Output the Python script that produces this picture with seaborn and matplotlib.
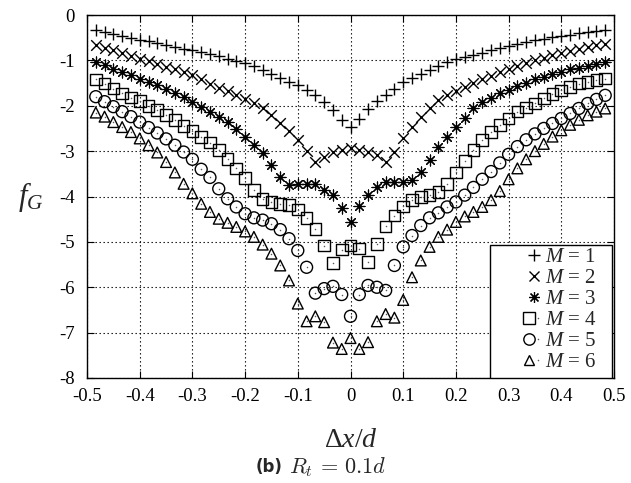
import matplotlib
matplotlib.use("Agg")
import matplotlib.pyplot as plt
import numpy as np
import pandas as pd
import seaborn as sns
from matplotlib.lines import Line2D
from matplotlib.patches import Rectangle
from matplotlib.legend_handler import HandlerTuple
from matplotlib.ticker import FixedLocator, FuncFormatter

# Offset positions dx/d (step 1/60)
dx = [-0.4833, -0.4667, -0.45, -0.4333, -0.4167, -0.4, -0.3833, -0.3667, -0.35, -0.3333,
      -0.3167, -0.3, -0.2833, -0.2667, -0.25, -0.2333, -0.2167, -0.2, -0.1833, -0.1667,
      -0.15, -0.1333, -0.1167, -0.1, -0.0833, -0.0667, -0.05, -0.0333, -0.0167, 0.0,
      0.0167, 0.0333, 0.05, 0.0667, 0.0833, 0.1, 0.1167, 0.1333, 0.15, 0.1667,
      0.1833, 0.2, 0.2167, 0.2333, 0.25, 0.2667, 0.2833, 0.3, 0.3167, 0.3333,
      0.35, 0.3667, 0.3833, 0.4, 0.4167, 0.4333, 0.45, 0.4667, 0.4833]

fG_m1 = [-0.33, -0.38, -0.42, -0.46, -0.50, -0.54, -0.58, -0.62, -0.66, -0.70,
         -0.74, -0.78, -0.82, -0.86, -0.91, -0.96, -1.01, -1.06, -1.12, -1.21,
         -1.30, -1.38, -1.47, -1.55, -1.66, -1.77, -1.91, -2.10, -2.32, -2.47,
         -2.30, -2.08, -1.90, -1.77, -1.62, -1.47, -1.38, -1.30, -1.21, -1.12,
         -1.03, -0.98, -0.93, -0.88, -0.83, -0.78, -0.73, -0.68, -0.64, -0.60,
         -0.56, -0.52, -0.49, -0.46, -0.43, -0.40, -0.37, -0.35, -0.32]

fG_m2 = [-0.67, -0.72, -0.78, -0.84, -0.90, -0.96, -1.02, -1.08, -1.14, -1.20,
         -1.26, -1.32, -1.40, -1.51, -1.60, -1.68, -1.76, -1.86, -1.93, -2.06,
         -2.21, -2.37, -2.56, -2.76, -3.00, -3.24, -3.13, -3.03, -2.97, -2.94,
         -2.98, -3.02, -3.09, -3.24, -3.02, -2.72, -2.47, -2.24, -2.06, -1.88,
         -1.77, -1.68, -1.59, -1.50, -1.42, -1.34, -1.26, -1.19, -1.12, -1.06,
         -1.00, -0.94, -0.89, -0.84, -0.79, -0.75, -0.71, -0.67, -0.63]

fG_m3 = [-1.03, -1.11, -1.19, -1.26, -1.33, -1.40, -1.47, -1.55, -1.63, -1.72,
         -1.81, -1.91, -2.02, -2.13, -2.24, -2.36, -2.52, -2.69, -2.87, -3.05,
         -3.31, -3.57, -3.75, -3.73, -3.72, -3.73, -3.85, -3.97, -4.25, -4.56,
         -4.22, -3.96, -3.79, -3.69, -3.68, -3.68, -3.64, -3.46, -3.20, -2.91,
         -2.69, -2.47, -2.26, -2.06, -1.92, -1.82, -1.73, -1.65, -1.57, -1.49,
         -1.42, -1.36, -1.30, -1.25, -1.20, -1.16, -1.12, -1.08, -1.04]

fG_m4 = [-1.42, -1.51, -1.62, -1.73, -1.82, -1.90, -2.00, -2.10, -2.21, -2.32,
         -2.44, -2.55, -2.69, -2.81, -2.98, -3.17, -3.38, -3.59, -3.85, -4.05,
         -4.12, -4.16, -4.19, -4.29, -4.47, -4.71, -5.08, -5.46, -5.17, -5.08,
         -5.15, -5.45, -5.04, -4.66, -4.42, -4.22, -4.08, -4.01, -3.97, -3.90,
         -3.72, -3.47, -3.22, -2.98, -2.76, -2.58, -2.43, -2.28, -2.13, -2.04,
         -1.95, -1.84, -1.74, -1.66, -1.58, -1.51, -1.47, -1.43, -1.40]

fG_m5 = [-1.80, -1.91, -2.02, -2.13, -2.24, -2.36, -2.48, -2.60, -2.73, -2.87,
         -3.02, -3.18, -3.40, -3.58, -3.83, -4.05, -4.23, -4.38, -4.47, -4.52,
         -4.60, -4.73, -4.93, -5.19, -5.56, -6.13, -6.03, -5.98, -6.16, -6.64,
         -6.16, -5.96, -6.00, -6.07, -5.52, -5.11, -4.86, -4.64, -4.47, -4.36,
         -4.23, -4.12, -3.97, -3.80, -3.62, -3.45, -3.26, -3.07, -2.90, -2.75,
         -2.62, -2.50, -2.39, -2.28, -2.17, -2.06, -1.95, -1.86, -1.77]

fG_m6 = [-2.15, -2.24, -2.36, -2.47, -2.58, -2.72, -2.87, -3.03, -3.24, -3.47,
         -3.72, -3.93, -4.16, -4.34, -4.49, -4.58, -4.67, -4.77, -4.89, -5.06,
         -5.26, -5.52, -5.85, -6.36, -6.75, -6.64, -6.77, -7.22, -7.36, -7.12,
         -7.36, -7.21, -6.75, -6.59, -6.67, -6.28, -5.78, -5.41, -5.11, -4.89,
         -4.73, -4.56, -4.44, -4.34, -4.23, -4.08, -3.88, -3.62, -3.38, -3.18,
         -3.00, -2.84, -2.68, -2.54, -2.42, -2.31, -2.21, -2.13, -2.06]

m_values = [1, 2, 3, 4, 5, 6]
series = [fG_m1, fG_m2, fG_m3, fG_m4, fG_m5, fG_m6]
legend_labels = [r"$M$ = 1", r"$M$ = 2", r"$M$ = 3", r"$M$ = 4", r"$M$ = 5", r"$M$ = 6"]
x_ticks = [-0.5, -0.4, -0.3, -0.2, -0.1, 0.0, 0.1, 0.2, 0.3, 0.4, 0.5]
y_ticks = [0, -1, -2, -3, -4, -5, -6, -7, -8]

df = pd.concat(
    [pd.DataFrame({"dx": dx, "fG": vals, "M": m}) for m, vals in zip(m_values, series)],
    ignore_index=True,
)

sns.set_theme(style="ticks")
plt.rcParams.update({
    "font.family": ["Liberation Serif", "DejaVu Serif"],
    "mathtext.fontset": "custom",
    "mathtext.rm": "Liberation Serif",
    "mathtext.it": "Liberation Serif:italic",
    "mathtext.bf": "Liberation Serif:bold",
    "axes.unicode_minus": False,
    "axes.edgecolor": "black",
    "axes.linewidth": 1.0,
})

fig = plt.figure(figsize=(6.31, 4.83), dpi=100)
ax = fig.add_axes([87 / 631, 1 - 378 / 483, 527 / 631, 363 / 483])

# marker styles: (marker, size, line width, open shape with centre dot)
styles = {
    1: ("+", 64, 1.0, False),
    2: ("x", 58, 1.0, False),
    3: ((8, 2, 0), 62, 0.85, False),
    4: ("s", 70, 1.0, True),
    5: ("o", 74, 1.0, True),
    6: ("^", 60, 1.0, True),
}

handles = []
for m in m_values:
    sub = df[df["M"] == m]
    mk, size, lw, open_shape = styles[m]
    if open_shape:
        sns.scatterplot(data=sub, x="dx", y="fG", ax=ax, marker=mk, s=size,
                        facecolor="none", edgecolor="black", linewidth=lw,
                        zorder=3, legend=False)
        sns.scatterplot(data=sub, x="dx", y="fG", ax=ax, marker="o", s=1.2,
                        color="0.35", linewidth=0, zorder=4, legend=False)
        h_main = Line2D([], [], marker=mk, linestyle="", markersize=np.sqrt(size) * 0.95,
                        markerfacecolor="none", markeredgecolor="black", markeredgewidth=lw)
        h_dot = Line2D([], [], marker="o", linestyle="", markersize=1.1,
                       markerfacecolor="0.35", markeredgewidth=0)
        handles.append((h_main, h_dot))
    else:
        sns.scatterplot(data=sub, x="dx", y="fG", ax=ax, marker=mk, s=size,
                        color="black", linewidth=lw, zorder=3, legend=False)
        handles.append(Line2D([], [], marker=mk, linestyle="", markersize=np.sqrt(size),
                              color="black", markeredgewidth=lw))

ax.set_xlim(-0.5, 0.5)
ax.set_ylim(-8, 0)
ax.xaxis.set_major_locator(FixedLocator(x_ticks))
ax.yaxis.set_major_locator(FixedLocator(y_ticks))
ax.xaxis.set_major_formatter(FuncFormatter(lambda v, p: "0" if abs(v) < 1e-9 else f"{v:.1f}"))
ax.yaxis.set_major_formatter(FuncFormatter(lambda v, p: f"{int(round(v))}"))
ax.tick_params(direction="in", top=True, right=True, length=5, width=0.8,
               labelsize=13.5, colors="black")
ax.tick_params(axis="y", pad=9)
ax.tick_params(axis="x", pad=7)

ax.set_axisbelow(True)
ax.grid(True, color="black", linestyle=(0, (1.2, 2.4)), linewidth=0.8)

ax.set_xlabel(r"$\Delta x/d$", fontsize=20)
ax.xaxis.set_label_coords(0.5, -0.171)
ax.xaxis.label.set_va("center")
ax.set_ylabel(r"$f_G$", fontsize=22, rotation=0)
ax.yaxis.set_label_coords(-0.106, 0.5)
ax.yaxis.label.set_va("center")
ax.yaxis.label.set_ha("center")

# key box: opaque white panel in the lower-right corner
key_box = Rectangle(((490 - 87) / 527, 0.0), (612 - 490) / 527, (378 - 245) / 363,
                    transform=ax.transAxes, facecolor="white", edgecolor="black",
                    linewidth=1.0, zorder=5)
ax.add_patch(key_box)

leg = ax.legend(handles, legend_labels, loc="lower right",
                bbox_to_anchor=((597 - 87) / 527, (378 - 372) / 363),
                borderaxespad=0.0, borderpad=0.0, fontsize=15, frameon=False,
                handlelength=0.8, handletextpad=0.15, labelspacing=0.065,
                handler_map={tuple: HandlerTuple(ndivide=None, pad=0)})
leg.set_zorder(6)

fig.text(256 / 631, 1 - 467 / 483, "(b)", fontsize=12, fontweight="bold",
         family=["DejaVu Sans"], ha="left", va="center")
fig.text(289 / 631, 1 - 467 / 483, r"$R_t\,=\,0.1d$", fontsize=16,
         math_fontfamily="cm", ha="left", va="center")

fig.savefig("out.png", dpi=100)
